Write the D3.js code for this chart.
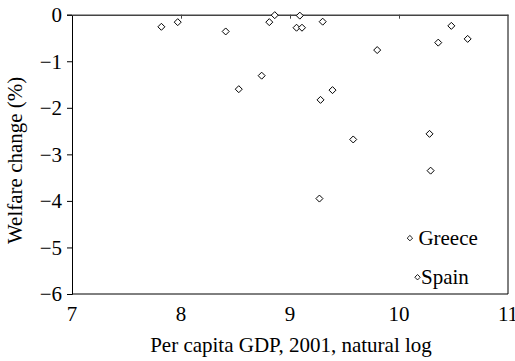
<!DOCTYPE html>
<html><head><meta charset="utf-8">
<script src="https://cdn.jsdelivr.net/npm/d3@7"></script>
<style>body{margin:0;background:#fff}svg{display:block}text{font-family:"Liberation Serif","Times New Roman",serif;fill:#000}</style>
</head><body><svg id="c" width="515" height="361"></svg>
<script>
const gdpLog = [7.82,7.97,8.41,8.53,8.74,8.81,8.86,9.09,9.06,9.11,9.30,9.80,10.48,10.36,10.63,9.39,9.28,9.58,10.28,10.29,9.27];
const welfare = [-0.26,-0.16,-0.36,-1.60,-1.31,-0.16,-0.01,-0.02,-0.28,-0.28,-0.15,-0.76,-0.24,-0.60,-0.52,-1.62,-1.83,-2.68,-2.56,-3.35,-3.95];
const labelNames = ["Greece","Spain"];
const labelGdp = [10.10,10.17];
const labelWelfare = [-4.80,-5.64];
const xTicks = [7,8,9,10,11];
const yTicks = [0,-1,-2,-3,-4,-5,-6];

const svg = d3.select("#c");
const L=72,R=508,T=14.7,B=294;
const FS=21;
const x = d3.scaleLinear().domain([7,11]).range([L,R]);
const y = d3.scaleLinear().domain([-6,0]).range([B,T]);
const fmt = d => d<0 ? "\u2212"+Math.abs(d) : String(d);

svg.append("line").attr("x1",R).attr("x2",R).attr("y1",T).attr("y2",B).attr("stroke","#000").attr("stroke-width",1);
svg.append("line").attr("x1",L).attr("x2",R).attr("y1",B).attr("y2",B).attr("stroke","#000").attr("stroke-width",1);

const ya = svg.append("g").attr("transform",`translate(${L},0)`)
  .call(d3.axisLeft(y).tickValues(yTicks).tickFormat(fmt).tickSize(5).tickPadding(5));
ya.select(".domain").attr("stroke","#000");
ya.selectAll("text").attr("font-size",FS).attr("dy","0.33em");

const xa = svg.append("g").attr("transform",`translate(0,${y(0)})`)
  .call(d3.axisBottom(x).tickValues(xTicks.slice(1,-1)).tickFormat("").tickSize(4).tickSizeOuter(0));
xa.select(".domain").attr("stroke","#444").attr("stroke-width",1.5);
xa.selectAll(".tick line").attr("stroke","#444");

svg.append("g").selectAll("text").data(xTicks).join("text")
  .attr("x",d=>x(d)).attr("y",B+27).attr("text-anchor","middle").attr("font-size",FS).text(d=>d);

svg.append("text").attr("x",(L+R)/2+1).attr("y",352).attr("text-anchor","middle").attr("font-size",FS)
  .text("Per capita GDP, 2001, natural log");
svg.append("text").attr("transform",`translate(22,${(T+B)/2+6}) rotate(-90)`).attr("text-anchor","middle").attr("font-size",FS)
  .text("Welfare change (%)");

const diamond = s => `M0,${-s}L${s},0L0,${s}L${-s},0Z`;
svg.append("g").selectAll("path").data(gdpLog.map((g,i)=>[g,welfare[i]])).join("path")
  .attr("transform",d=>`translate(${x(d[0])},${y(d[1])})`).attr("d",diamond(3.5))
  .attr("fill","#fff").attr("stroke","#000").attr("stroke-width",1);

const lab = labelNames.map((n,i)=>({n,g:labelGdp[i],w:labelWelfare[i]}));
svg.append("g").selectAll("path").data(lab).join("path")
  .attr("transform",d=>`translate(${x(d.g)},${y(d.w)})`).attr("d",diamond(2.7))
  .attr("fill","#fff").attr("stroke","#000").attr("stroke-width",0.9);
svg.append("g").selectAll("text").data(lab).join("text")
  .attr("x",d=>x(d.g)+(d.n==="Greece"?8.5:3.5)).attr("y",d=>y(d.w)+7).attr("font-size",FS).text(d=>d.n);
</script></body></html>
